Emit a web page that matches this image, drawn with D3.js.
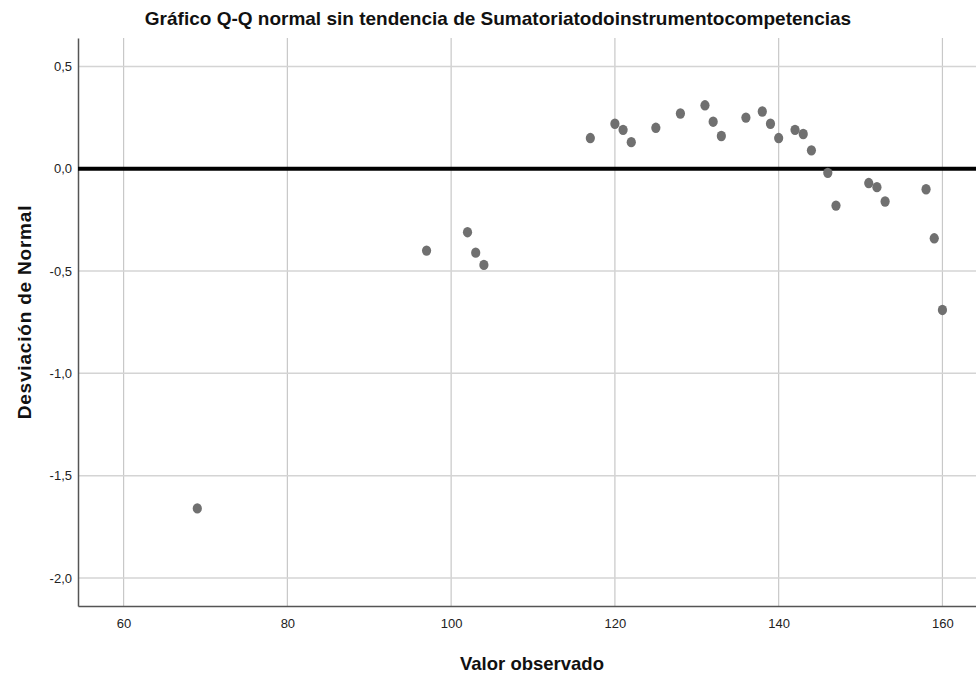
<!DOCTYPE html>
<html>
<head>
<meta charset="utf-8">
<script src="https://cdn.jsdelivr.net/npm/d3@7"></script>
<style>
  body { margin: 0; background: #fff; }
  svg { display: block; }
  .tick text { font-family: "Liberation Sans", Arial, sans-serif; font-size: 13px; fill: #222; }
</style>
</head>
<body>
<div id="chart"></div>
<script>
// valores observados y desviación de la normal
var observed = [69, 97, 102, 103, 104, 117, 120, 121, 122, 125, 128, 131, 132, 133, 136, 138, 139, 140,
                142, 143, 144, 146, 147, 151, 152, 153, 158, 159, 160];
var deviation = [-1.66, -0.40, -0.31, -0.41, -0.47, 0.15, 0.22, 0.19, 0.13, 0.20, 0.27, 0.31, 0.23, 0.16,
                 0.25, 0.28, 0.22, 0.15, 0.19, 0.17, 0.09, -0.02, -0.18, -0.07, -0.09, -0.16, -0.10, -0.34, -0.69];
var xTicks = [60, 80, 100, 120, 140, 160];
var yTicks = [0.5, 0.0, -0.5, -1.0, -1.5, -2.0];

var width = 976, height = 679;
var margin = {top: 38, right: 0, bottom: 73, left: 78};

var svg = d3.select("#chart").append("svg")
    .attr("width", width)
    .attr("height", height);

var x = d3.scaleLinear().domain([54.43, 164.1]).range([margin.left, width - margin.right]);
var y = d3.scaleLinear().domain([-2.137, 0.639]).range([height - margin.bottom, margin.top]);

var fmt = function (d) { return d3.format(".1f")(d).replace(".", ",").replace("−", "-"); };

// rejilla
svg.append("g").selectAll("line.vg").data(xTicks).enter().append("line")
    .attr("x1", function (d) { return x(d); })
    .attr("x2", function (d) { return x(d); })
    .attr("y1", margin.top)
    .attr("y2", height - margin.bottom)
    .attr("stroke", "#c8c8c8")
    .attr("stroke-width", 1.2);
svg.append("g").selectAll("line.hg").data(yTicks).enter().append("line")
    .attr("x1", margin.left)
    .attr("x2", width - margin.right)
    .attr("y1", function (d) { return y(d); })
    .attr("y2", function (d) { return y(d); })
    .attr("stroke", "#d4d4d4")
    .attr("stroke-width", 1.5);

// ejes
var xAxis = svg.append("g")
    .attr("transform", "translate(0," + (height - margin.bottom) + ")")
    .call(d3.axisBottom(x).tickValues(xTicks).tickSize(0).tickPadding(13).tickFormat(d3.format("d")));
xAxis.select(".domain").attr("stroke", "#555").attr("stroke-width", 1.5);

var yAxis = svg.append("g")
    .attr("transform", "translate(" + margin.left + ",0)")
    .call(d3.axisLeft(y).tickValues(yTicks).tickSize(0).tickPadding(6).tickFormat(fmt));
yAxis.select(".domain").attr("stroke", "#555").attr("stroke-width", 1.5);

// línea de referencia en 0
svg.append("line")
    .attr("x1", margin.left)
    .attr("x2", width - margin.right)
    .attr("y1", y(0))
    .attr("y2", y(0))
    .attr("stroke", "#000")
    .attr("stroke-width", 4);

// puntos
svg.append("g").selectAll("ellipse").data(observed).enter().append("ellipse")
    .attr("cx", function (d) { return x(d); })
    .attr("cy", function (d, i) { return y(deviation[i]); })
    .attr("rx", 4.6)
    .attr("ry", 5.2)
    .attr("fill", "#707070");

// títulos
svg.append("text")
    .attr("x", 498)
    .attr("y", 25)
    .attr("text-anchor", "middle")
    .style("font-family", "'Liberation Sans', Arial, sans-serif")
    .style("font-weight", "bold")
    .style("font-size", "19px")
    .style("fill", "#111")
    .text("Gráfico Q-Q normal sin tendencia de Sumatoriatodoinstrumentocompetencias");

svg.append("text")
    .attr("x", 532)
    .attr("y", 670)
    .attr("text-anchor", "middle")
    .style("font-family", "'Liberation Sans', Arial, sans-serif")
    .style("font-weight", "bold")
    .style("font-size", "18.5px")
    .style("fill", "#111")
    .text("Valor observado");

svg.append("text")
    .attr("transform", "translate(31,312) rotate(-90)")
    .attr("text-anchor", "middle")
    .style("font-family", "'Liberation Sans', Arial, sans-serif")
    .style("font-weight", "bold")
    .style("font-size", "19px")
    .style("letter-spacing", "0.8px")
    .style("fill", "#111")
    .text("Desviación de Normal");
</script>
</body>
</html>
